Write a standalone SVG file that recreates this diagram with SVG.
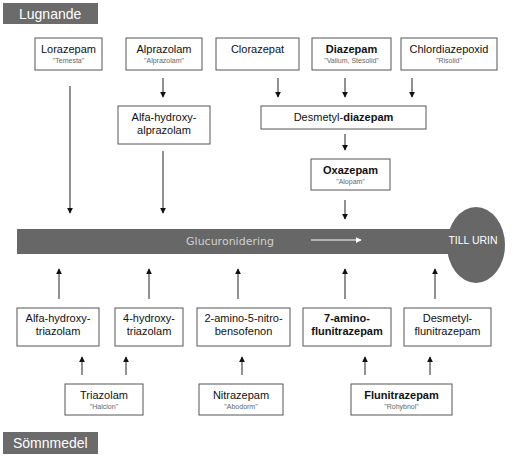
<svg xmlns="http://www.w3.org/2000/svg" width="518" height="457" viewBox="0 0 518 457">
<defs>
<style>
.box{fill:#fff;stroke:#555;stroke-width:1}
.t{font-family:"Liberation Sans",Arial,sans-serif;font-size:11px;fill:#111;text-anchor:middle}
.b{font-weight:bold}
.s{font-family:"Liberation Sans",Arial,sans-serif;font-size:7px;fill:#666;text-anchor:middle}
.lbl{fill:#6b6b6b}
.lt{font-family:"Liberation Sans",Arial,sans-serif;font-size:14px;fill:#fff}
.c{stroke:#222;stroke-width:1;fill:none;marker-end:url(#ah)}
</style>
<marker id="ah" viewBox="0 0 8 8" refX="7" refY="4" markerWidth="6" markerHeight="6" markerUnits="userSpaceOnUse" orient="auto">
<path d="M0,0 L8,4 L0,8 z" fill="#111"/>
</marker>
<marker id="wh" viewBox="0 0 8 8" refX="7" refY="4" markerWidth="6" markerHeight="6" markerUnits="userSpaceOnUse" orient="auto">
<path d="M0,0 L8,4 L0,8 z" fill="#fff"/>
</marker>
</defs>
<rect width="518" height="457" fill="#fff"/>

<g id="lugnande">
<rect class="lbl" x="3" y="3" width="95" height="21"/>
<text class="lt" x="19" y="19">Lugnande</text>
</g>
<g id="somnmedel">
<rect class="lbl" x="3" y="432" width="95" height="22"/>
<text class="lt" x="13" y="448">Sömnmedel</text>
</g>

<g id="glucuronidering">
<rect x="17" y="229" width="440" height="25" fill="#676767"/>
<ellipse cx="476" cy="245" rx="29" ry="38" fill="#676767"/>
<text x="230" y="245" font-family="'DejaVu Sans',Verdana,sans-serif" font-size="11" fill="#d0d0d0" text-anchor="middle">Glucuronidering</text>
<line x1="311" y1="240" x2="361" y2="240" stroke="#fff" stroke-width="1" marker-end="url(#wh)"/>
<text x="473" y="244" font-family="'Liberation Sans',Arial,sans-serif" font-size="10.5" fill="#fff" text-anchor="middle">TILL URIN</text>
</g>

<g id="lorazepam"><rect class="box" x="35" y="38" width="67" height="32"/><text class="t" x="68.5" y="53">Lorazepam</text><text class="s" x="68.5" y="63">"Temesta"</text></g>
<g id="alprazolam"><rect class="box" x="126" y="38" width="76" height="32"/><text class="t" x="164" y="53">Alprazolam</text><text class="s" x="164" y="63">"Alprazolam"</text></g>
<g id="clorazepat"><rect class="box" x="216" y="38" width="83" height="32"/><text class="t" x="257.5" y="53">Clorazepat</text></g>
<g id="diazepam"><rect class="box" x="312" y="38" width="79" height="32"/><text class="t b" x="351.5" y="53">Diazepam</text><text class="s" x="351.5" y="63">"Valium, Stesolid"</text></g>
<g id="chlordiazepoxid"><rect class="box" x="401" y="38" width="96" height="32"/><text class="t" x="449" y="53">Chlordiazepoxid</text><text class="s" x="449" y="63">"Risolid"</text></g>

<g id="alfa-hydroxy-alprazolam"><rect class="box" x="118" y="106" width="92" height="38"/><text class="t" x="164" y="121">Alfa-hydroxy-</text><text class="t" x="164" y="134">alprazolam</text></g>
<g id="desmetyl-diazepam"><rect class="box" x="261" y="106" width="165" height="23"/><text class="t" x="343.5" y="121">Desmetyl-<tspan class="b">diazepam</tspan></text></g>
<g id="oxazepam"><rect class="box" x="311" y="159" width="79" height="31"/><text class="t b" x="350.5" y="174">Oxazepam</text><text class="s" x="350.5" y="184">"Alopam"</text></g>

<g id="alfa-hydroxy-triazolam"><rect class="box" x="17" y="308" width="82" height="38"/><text class="t" x="58" y="322">Alfa-hydroxy-</text><text class="t" x="58" y="335">triazolam</text></g>
<g id="4-hydroxy-triazolam"><rect class="box" x="115" y="308" width="68" height="38"/><text class="t" x="149" y="322">4-hydroxy-</text><text class="t" x="149" y="335">triazolam</text></g>
<g id="2-amino-5-nitro-bensofenon"><rect class="box" x="197" y="308" width="93" height="38"/><text class="t" x="243.5" y="322">2-amino-5-nitro-</text><text class="t" x="243.5" y="335">bensofenon</text></g>
<g id="7-amino-flunitrazepam"><rect class="box" x="303" y="308" width="88" height="38"/><text class="t b" x="347" y="322">7-amino-</text><text class="t b" x="347" y="335">flunitrazepam</text></g>
<g id="desmetyl-flunitrazepam"><rect class="box" x="404" y="308" width="87" height="38"/><text class="t" x="447.5" y="322">Desmetyl-</text><text class="t" x="447.5" y="335">flunitrazepam</text></g>

<g id="triazolam"><rect class="box" x="65" y="384" width="78" height="31"/><text class="t" x="104" y="399">Triazolam</text><text class="s" x="104" y="409">"Halcion"</text></g>
<g id="nitrazepam"><rect class="box" x="199" y="384" width="84" height="31"/><text class="t" x="241" y="399">Nitrazepam</text><text class="s" x="241" y="409">"Abodorm"</text></g>
<g id="flunitrazepam"><rect class="box" x="351" y="384" width="101" height="31"/><text class="t b" x="401.5" y="399">Flunitrazepam</text><text class="s" x="401.5" y="409">"Rohybnol"</text></g>

<g id="connectors">
<line class="c" x1="163" y1="78" x2="163" y2="97"/>
<line class="c" x1="278" y1="78" x2="278" y2="97"/>
<line class="c" x1="345" y1="78" x2="345" y2="97"/>
<line class="c" x1="412" y1="78" x2="412" y2="97"/>
<line class="c" x1="345" y1="134" x2="345" y2="150"/>
<line class="c" x1="345" y1="200" x2="345" y2="219"/>
<line class="c" x1="70" y1="86" x2="70" y2="213"/>
<line class="c" x1="163" y1="151" x2="163" y2="213"/>
<line class="c" x1="59" y1="299" x2="59" y2="269"/>
<line class="c" x1="149" y1="299" x2="149" y2="269"/>
<line class="c" x1="238" y1="299" x2="238" y2="269"/>
<line class="c" x1="345" y1="299" x2="345" y2="269"/>
<line class="c" x1="435" y1="299" x2="435" y2="269"/>
<line class="c" x1="82" y1="375" x2="82" y2="357"/>
<line class="c" x1="126" y1="375" x2="126" y2="357"/>
<line class="c" x1="242" y1="375" x2="242" y2="357"/>
<line class="c" x1="365" y1="375" x2="365" y2="357"/>
<line class="c" x1="430" y1="375" x2="430" y2="357"/>
</g>
</svg>
